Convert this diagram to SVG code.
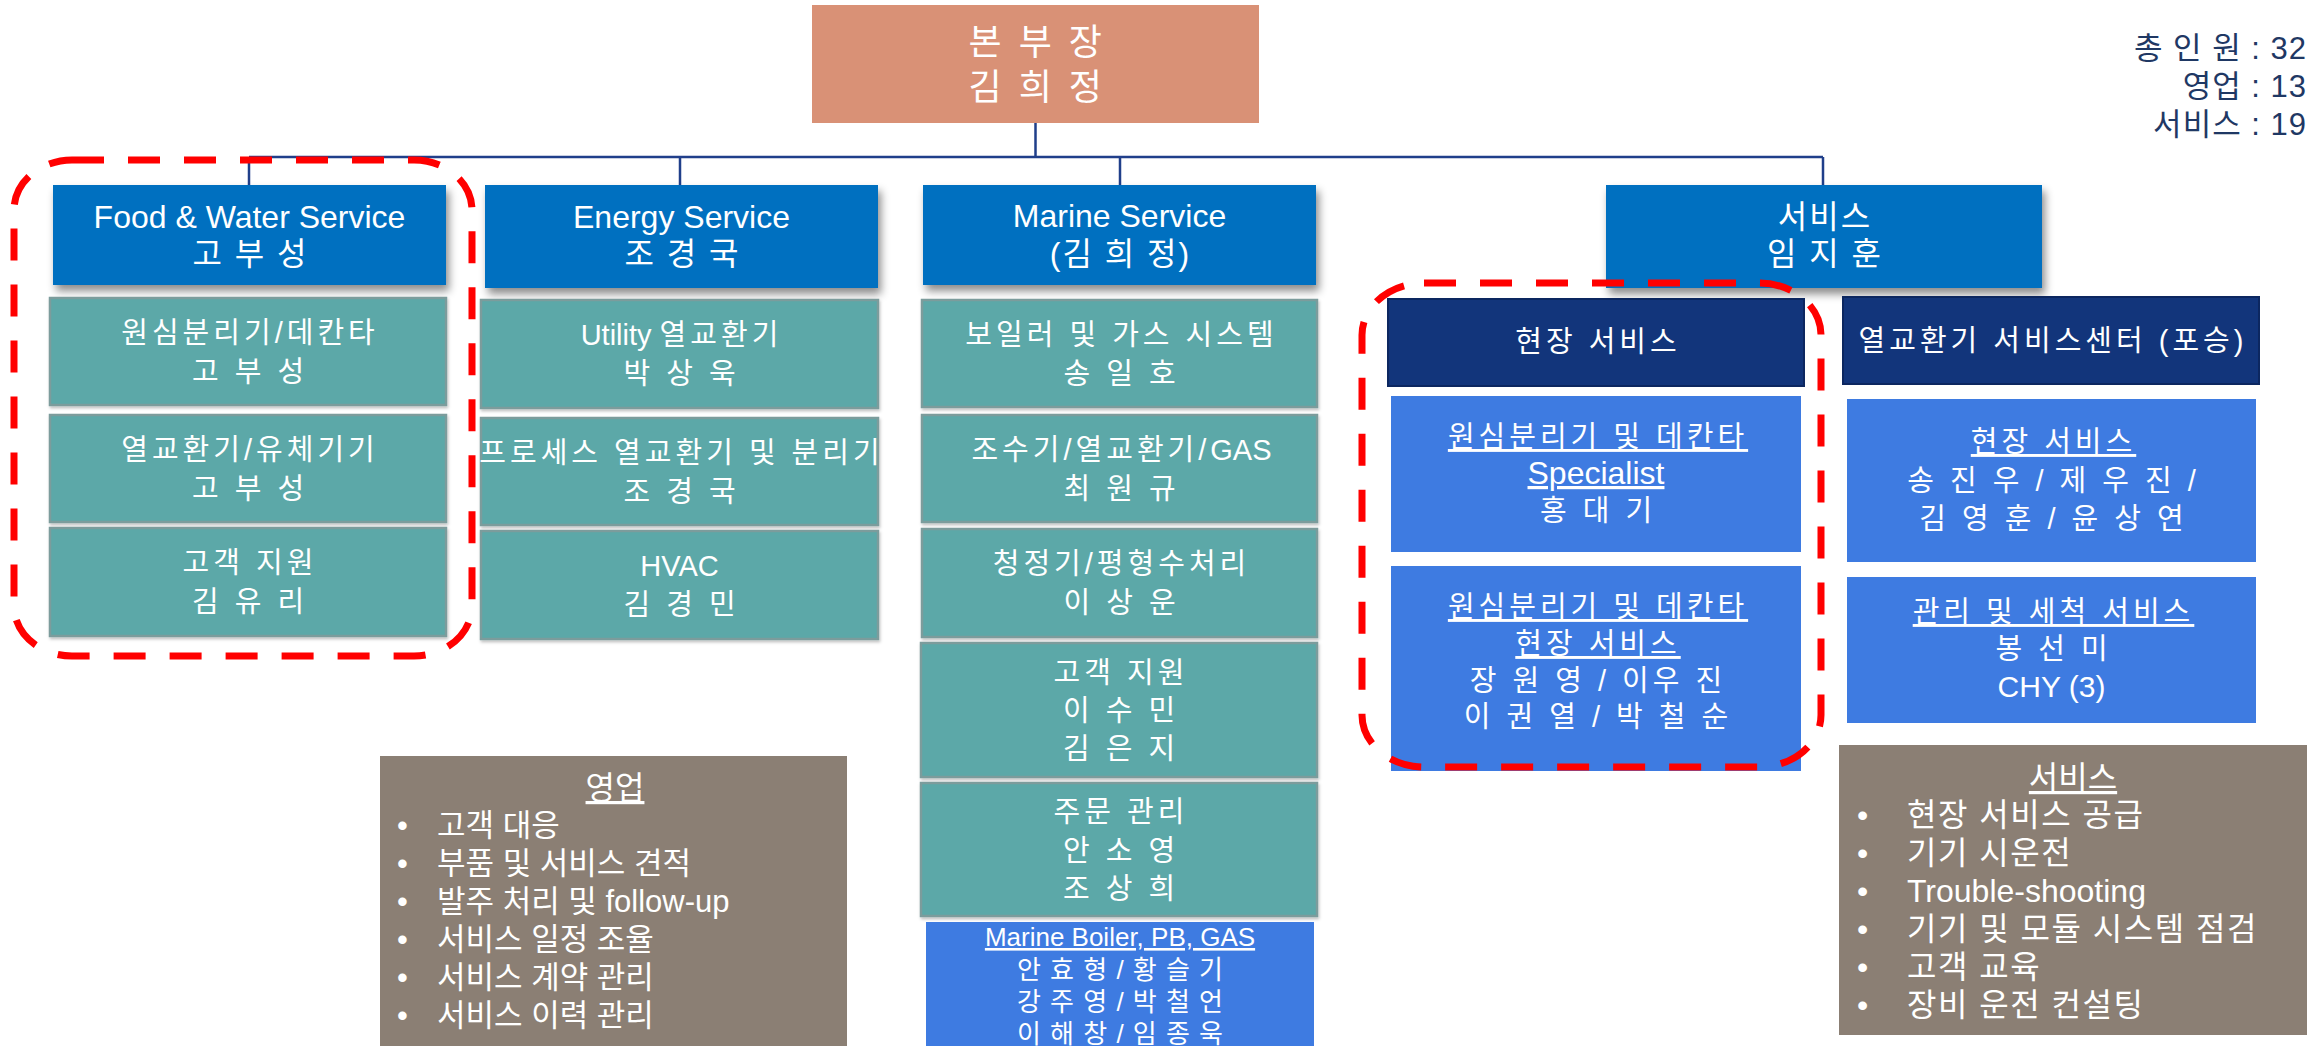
<svg xmlns="http://www.w3.org/2000/svg" width="2318" height="1046" viewBox="0 0 2318 1046">
<defs>
<filter id="sh" x="-10%" y="-10%" width="125%" height="140%">
<feDropShadow dx="3" dy="6" stdDeviation="4" flood-color="#000" flood-opacity="0.45"/>
</filter>
<filter id="sh2" x="-10%" y="-10%" width="125%" height="130%">
<feDropShadow dx="1" dy="2" stdDeviation="1.5" flood-color="#000" flood-opacity="0.25"/>
</filter>
</defs>
<style>
text{font-family:"Liberation Sans","Noto Sans CJK KR",sans-serif;fill:#fff;text-anchor:middle}
.f36{font-size:36px;letter-spacing:3.5px}
.f32{font-size:32px}
.f29{font-size:29px}
.f26{font-size:26px}
.k{letter-spacing:4px}
.k2{letter-spacing:2px}
.k1{letter-spacing:1px}
.e{letter-spacing:0}
.u{text-decoration:underline}
.l{text-anchor:start}
.r{text-anchor:end;fill:#1F3864;font-size:31px;letter-spacing:1px}
.top{fill:#D99176}
.lv2{fill:#0070C0;filter:url(#sh)}
.teal{fill:#5BA8A8;stroke:#7C9C9C;stroke-width:2.5;filter:url(#sh2)}
.navy{fill:#12357B;stroke:#0C2760;stroke-width:2}
.blue{fill:#3E7BE1}
.brown{fill:#8B7F74}
.dash{fill:none;stroke:#FF0000;stroke-width:7;stroke-dasharray:32 24}
.conn{fill:none;stroke:#203F8A;stroke-width:2.5}
</style>
<rect width="2318" height="1046" fill="#fff"/>

<g id="connectors">
<path class="conn" d="M1035.5 123 V157 M249 157 H1823 M249 157 V185 M680 157 V185 M1120 157 V185 M1823 157 V185"/>
</g>

<g id="n-top">
<rect class="top" x="812" y="5" width="447" height="118"/>
<text class="f36" x="1037" y="55">본 부 장</text>
<text class="f36" x="1037" y="100">김 희 정</text>
</g>

<g id="n-count">
<text class="r" x="2307" y="59">총 인 원 : 32</text>
<text class="r" x="2307" y="97">영업 : 13</text>
<text class="r" x="2307" y="135">서비스 : 19</text>
</g>

<g id="n-food">
<rect class="lv2" x="53" y="185" width="393" height="100"/>
<text class="f32" x="249.5" y="228">Food &amp; Water Service</text>
<text class="f32 k2" x="250.5" y="265">고 부 성</text>
</g>
<g id="n-food-1">
<rect class="teal" x="50" y="298" width="396" height="107"/>
<text class="f29 k" x="250" y="343">원심분리기/데칸타</text>
<text class="f29 k" x="250" y="382">고 부 성</text>
</g>
<g id="n-food-2">
<rect class="teal" x="50" y="415" width="396" height="107"/>
<text class="f29 k" x="250" y="460">열교환기/유체기기</text>
<text class="f29 k" x="250" y="499">고 부 성</text>
</g>
<g id="n-food-3">
<rect class="teal" x="50" y="528" width="396" height="108"/>
<text class="f29 k" x="250" y="573">고객 지원</text>
<text class="f29 k" x="250" y="612">김 유 리</text>
</g>

<g id="n-energy">
<rect class="lv2" x="485" y="185" width="393" height="103"/>
<text class="f32" x="681.5" y="228">Energy Service</text>
<text class="f32 k2" x="682.5" y="265">조 경 국</text>
</g>
<g id="n-energy-1">
<rect class="teal" x="481" y="300" width="397" height="108"/>
<text class="f29" x="681.5" y="345">Utility <tspan class="k">열교환기</tspan></text>
<text class="f29 k" x="681.5" y="384">박 상 욱</text>
</g>
<g id="n-energy-2">
<rect class="teal" x="481" y="418" width="397" height="107"/>
<text class="f29 k" x="681.5" y="463">프로세스 열교환기 및 분리기</text>
<text class="f29 k" x="681.5" y="502">조 경 국</text>
</g>
<g id="n-energy-3">
<rect class="teal" x="481" y="531" width="397" height="108"/>
<text class="f29" x="679.5" y="576">HVAC</text>
<text class="f29 k" x="681.5" y="615">김 경 민</text>
</g>

<g id="n-marine">
<rect class="lv2" x="923" y="185" width="393" height="100"/>
<text class="f32" x="1119.5" y="227">Marine Service</text>
<text class="f32 k2" x="1120.5" y="265">(김 희 정)</text>
</g>
<g id="n-marine-1">
<rect class="teal" x="922" y="300" width="395" height="107"/>
<text class="f29 k" x="1121.5" y="345">보일러 및 가스 시스템</text>
<text class="f29 k" x="1121.5" y="384">송 일 호</text>
</g>
<g id="n-marine-2">
<rect class="teal" x="922" y="415" width="395" height="107"/>
<text class="f29 k" x="1121.5" y="460">조수기/열교환기/<tspan class="e">GAS</tspan></text>
<text class="f29 k" x="1121.5" y="499">최 원 규</text>
</g>
<g id="n-marine-3">
<rect class="teal" x="922" y="529" width="395" height="108"/>
<text class="f29 k" x="1121.5" y="574">청정기/평형수처리</text>
<text class="f29 k" x="1121.5" y="613">이 상 운</text>
</g>
<g id="n-marine-4">
<rect class="teal" x="921" y="643" width="396" height="134"/>
<text class="f29 k" x="1121" y="683">고객 지원</text>
<text class="f29 k" x="1121" y="721">이 수 민</text>
<text class="f29 k" x="1121" y="759">김 은 지</text>
</g>
<g id="n-marine-5">
<rect class="teal" x="921" y="783" width="396" height="133"/>
<text class="f29 k" x="1121" y="822">주문 관리</text>
<text class="f29 k" x="1121" y="861">안 소 영</text>
<text class="f29 k" x="1121" y="899">조 상 희</text>
</g>
<g id="n-marine-6">
<rect class="blue" x="926" y="922" width="388" height="130"/>
<text class="f26 u" x="1120" y="946">Marine Boiler, PB, GAS</text>
<text class="f26 k1" x="1120.5" y="979">안 효 형 / 황 슬 기</text>
<text class="f26 k1" x="1120.5" y="1011">강 주 영 / 박 철 언</text>
<text class="f26 k1" x="1120.5" y="1043">이 해 창 / 임 종 욱</text>
</g>

<g id="n-service">
<rect class="lv2" x="1606" y="185" width="436" height="103"/>
<text class="f32 k2" x="1825" y="228">서비스</text>
<text class="f32 k2" x="1825" y="265">임 지 훈</text>
</g>
<g id="n-field">
<rect class="navy" x="1388" y="299" width="416" height="87"/>
<text class="f29 k" x="1598" y="352">현장 서비스</text>
</g>
<g id="n-field-1">
<rect class="blue" x="1391" y="396" width="410" height="156"/>
<text class="f29 k u" x="1598" y="447">원심분리기 및 데칸타 </text>
<text class="f32 u" x="1596" y="484">Specialist</text>
<text class="f29 k" x="1598" y="521">홍 대 기</text>
</g>
<g id="n-field-2">
<rect class="blue" x="1391" y="566" width="410" height="205"/>
<text class="f29 k u" x="1598" y="617">원심분리기 및 데칸타 </text>
<text class="f29 k u" x="1598" y="654">현장 서비스</text>
<text class="f29 k" x="1598" y="691">장 원 영 / 이우 진</text>
<text class="f29 k" x="1598" y="727">이 권 열 / 박 철 순</text>
</g>
<g id="n-center">
<rect class="navy" x="1843" y="297" width="416" height="87"/>
<text class="f29 k" x="2053" y="351">열교환기 서비스센터 (포승)</text>
</g>
<g id="n-center-1">
<rect class="blue" x="1847" y="399" width="409" height="163"/>
<text class="f29 k u" x="2053.5" y="452">현장 서비스</text>
<text class="f29 k" x="2053.5" y="491">송 진 우 / 제 우 진 /</text>
<text class="f29 k" x="2053.5" y="529">김 영 훈 / 윤 상 연</text>
</g>
<g id="n-center-2">
<rect class="blue" x="1847" y="577" width="409" height="146"/>
<text class="f29 k u" x="2053.5" y="622">관리 및 세척 서비스</text>
<text class="f29 k" x="2053.5" y="659">봉 선 미</text>
<text style="font-size:30px" x="2051.5" y="697">CHY (3)</text>
</g>

<g id="n-sales-note">
<rect class="brown" x="380" y="756" width="467" height="296"/>
<text class="f32 u" x="615" y="799">영업</text>
<g style="font-size:31px">
<text class="l" x="397" y="836">•</text><text class="l" x="437" y="836">고객 대응</text>
<text class="l" x="397" y="874">•</text><text class="l" x="437" y="874">부품 및 서비스 견적</text>
<text class="l" x="397" y="912">•</text><text class="l" x="437" y="912">발주 처리 및 follow-up</text>
<text class="l" x="397" y="950">•</text><text class="l" x="437" y="950">서비스 일정 조율</text>
<text class="l" x="397" y="988">•</text><text class="l" x="437" y="988">서비스 계약 관리</text>
<text class="l" x="397" y="1026">•</text><text class="l" x="437" y="1026">서비스 이력 관리</text>
</g>
</g>

<g id="n-service-note">
<rect class="brown" x="1839" y="745" width="468" height="290"/>
<text class="f32 u" x="2073" y="789">서비스</text>
<g style="font-size:32px;letter-spacing:1.5px">
<text class="l" x="1857" y="826">•</text><text class="l" x="1907" y="826">현장 서비스 공급</text>
<text class="l" x="1857" y="864">•</text><text class="l" x="1907" y="864">기기 시운전</text>
<text class="l" x="1857" y="902">•</text><text class="l e" x="1907" y="902">Trouble-shooting</text>
<text class="l" x="1857" y="940">•</text><text class="l" x="1907" y="940">기기 및 모듈 시스템 점검</text>
<text class="l" x="1857" y="978">•</text><text class="l" x="1907" y="978">고객 교육</text>
<text class="l" x="1857" y="1016">•</text><text class="l" x="1907" y="1016">장비 운전 컨설팅</text>
</g>
</g>

<g id="highlights">
<rect class="dash" x="14" y="160" width="458" height="496" rx="58" ry="50"/>
<rect class="dash" x="1362" y="283" width="459" height="484" rx="62" ry="52"/>
</g>
</svg>
